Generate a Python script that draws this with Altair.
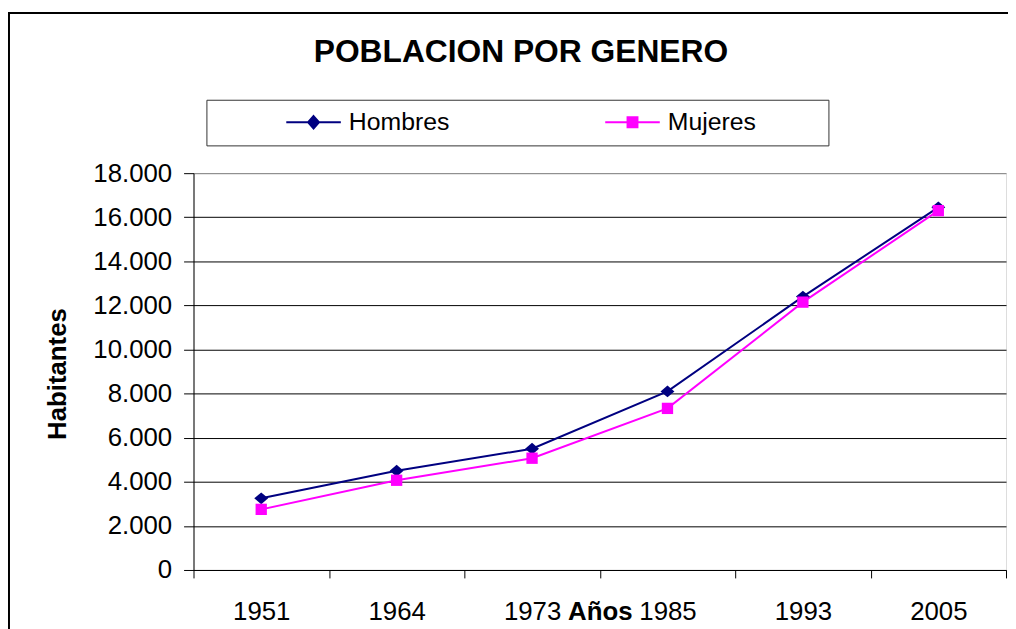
import altair as alt
import pandas as pd

# ---- data ----
years = ["1951", "1964", "1973", "1985", "1993", "2005"]
hombres = [3250, 4500, 5500, 8100, 12400, 16450]
mujeres = [2750, 4070, 5070, 7330, 12150, 16300]
series = ["Hombres", "Mujeres"]
colors = ["#000080", "#FF00FF"]
y_ticks = list(range(0, 18001, 2000))

rows = []
for s, vals in zip(series, [hombres, mujeres]):
    for yr, v in zip(years, vals):
        rows.append({"Año": yr, "Serie": s, "Habitantes": v})
df = pd.DataFrame(rows)

W, H = 819, 400
FONT = "Liberation Sans"

diamond = "M0,-0.857L1,0L0,0.857L-1,0Z"
leg_h = "M-2.75,0H2.75M0,-0.63L0.55,0L0,0.63L-0.55,0Z"
leg_m = "M-2.75,0H2.75M-0.5,-0.5H0.5V0.5H-0.5Z"
PAD_RIGHT = "\u00a0" * 9 + "\u200b"

x_enc = alt.X(
    "Año:O", sort=years, bandPosition=0.5,
    scale=alt.Scale(type="band", paddingInner=0, paddingOuter=0),
    axis=alt.Axis(
        title="Años", labelAngle=0, tickBand="extent", grid=False,
        labelFont=FONT, labelFontSize=26, labelColor="black",
        labelPadding=21, labelBaseline="top",
        tickSize=8, tickColor="black", domainColor="black",
        titleFont=FONT, titleFontSize=26, titleFontWeight="bold",
        titleColor="black", titleBaseline="top", titleY=29, titleX=W / 2,
    ),
)
y_enc = alt.Y(
    "Habitantes:Q",
    scale=alt.Scale(domain=[0, 18000], nice=False),
    axis=alt.Axis(
        title="Habitantes", values=y_ticks,
        labelExpr="replace(format(datum.value, ','), ',', '.')",
        labelFont=FONT, labelFontSize=26, labelColor="black",
        labelPadding=12, labelBaseline="middle",
        tickSize=10, tickColor="black", domainColor="black",
        grid=True,
        gridColor={"condition": {"test": "datum.value === 18000", "value": "#808080"}, "value": "black"},
        gridWidth=1, gridOpacity=1,
        titleFont=FONT, titleFontSize=26, titleFontWeight="bold", titleColor="black",
        titleAngle=270, titleBaseline="middle", titleX=-137, titleY=H / 2 + 2,
        titleAlign="center",
    ),
)

legend = alt.Legend(
    orient="none", legendX=13, legendY=-74, direction="horizontal", columns=2,
    title=" ", titleOrient="left", titleFontSize=1, titlePadding=85.5,
    padding=10, strokeColor="#333333", fillColor="white",
    columnPadding=152.5, symbolSize=400, labelOffset=23, labelLimit=400,
    symbolOpacity=1, symbolStrokeWidth=2,
    labelFont=FONT, labelFontSize=25, labelColor="black",
    labelExpr=f"datum.label == 'Mujeres' ? datum.label + '{PAD_RIGHT}' : datum.label",
)

color_plain = alt.Color("Serie:N", scale=alt.Scale(domain=series, range=colors), legend=None)

base = alt.Chart(df)
lines = base.mark_line(strokeWidth=2).encode(x=x_enc, y=y_enc, color=color_plain)
points_h = base.transform_filter(alt.datum.Serie == "Hombres").mark_point(
    filled=True, opacity=1, shape=diamond, size=196
).encode(x=x_enc, y=y_enc, color=color_plain)
points_m = base.transform_filter(alt.datum.Serie == "Mujeres").mark_point(
    filled=True, opacity=1, shape="square", size=130
).encode(x=x_enc, y=y_enc, color=color_plain)

# invisible layer that only feeds the legend (line + marker symbols)
legend_layer = base.mark_point(opacity=0, strokeWidth=2).encode(
    x=x_enc, y=y_enc,
    fill=alt.Fill("Serie:N", scale=alt.Scale(domain=series, range=colors), legend=legend),
    stroke=alt.Stroke("Serie:N", scale=alt.Scale(domain=series, range=colors), legend=legend),
    shape=alt.Shape("Serie:N", scale=alt.Scale(domain=series, range=[leg_h, leg_m]), legend=legend),
)

frame_df = pd.DataFrame({"k": [0]})
border_left = alt.Chart(frame_df).mark_rule(color="black", strokeWidth=2).encode(
    x=alt.value(-186), y=alt.value(-161.5), y2=alt.value(H + 70)
)
border_top = alt.Chart(frame_df).mark_rule(color="black", strokeWidth=2).encode(
    x=alt.value(-187), x2=alt.value(W + 10), y=alt.value(-161.5)
)

chart = alt.layer(border_left, border_top, legend_layer, lines, points_h, points_m).properties(
    width=W, height=H,
    autosize=alt.AutoSizeParams(type="none"),
    padding={"left": 187, "top": 164, "right": 2, "bottom": 57},
    title=alt.TitleParams(
        "POBLACION POR GENERO", font=FONT, fontSize=32, fontWeight="bold",
        color="black", anchor="middle", frame="group", dx=-79.5, offset=-82.5,
        baseline="alphabetic",
    ),
).configure_view(
    fill="#C0C0C0", stroke="#808080", strokeWidth=1
).configure(background="white")

chart.save("out.html", embed_options={"renderer": "svg", "actions": False})
